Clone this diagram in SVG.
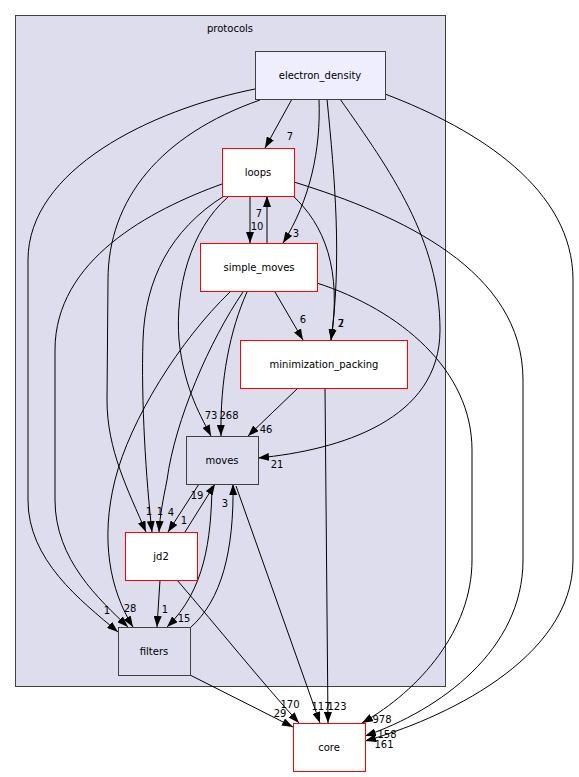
<svg xmlns="http://www.w3.org/2000/svg" width="579" height="777" viewBox="0 0 579 777">
<defs>
<marker id="ah" viewBox="0 0 11 8" refX="11" refY="4" markerWidth="11" markerHeight="8" markerUnits="userSpaceOnUse" orient="auto">
<path d="M0,0 L11,4 L0,8 z" fill="#000"/>
</marker>
<style>
text{font-family:"DejaVu Sans","Liberation Sans",sans-serif;font-size:10px;fill:#000}
.n text{text-anchor:middle}
.red{fill:#fff;stroke:#ff0000;stroke-width:1}
.grey{fill:#ddddee;stroke:#404040;stroke-width:1}
.top{fill:#eeeeff;stroke:#404040;stroke-width:1}
#edges path{fill:none;stroke:#000;stroke-width:1;marker-end:url(#ah)}
#edges text{text-anchor:middle}
</style>
</defs>
<rect width="579" height="777" fill="#fff"/>
<g id="cluster_protocols">
<rect x="15.5" y="15.5" width="430" height="671" fill="#ddddee" stroke="#404040"/>
<text x="230" y="32" text-anchor="middle">protocols</text>
</g>
<g id="edges">
<path d="M292,99 L265,148"/><text x="290" y="140">7</text>
<path d="M319,99 C321,150 310,200 283,243"/><text x="296" y="237">3</text>
<path d="M327,99 C335,180 342,260 331,340"/>
<path d="M292,195 C325,225 342,270 331,340"/><text x="341" y="327">7</text><text x="341" y="327">2</text>
<path d="M340,99 C390,170 440,240 440,330 C440,420 340,450 258,458"/><text x="277" y="468">21</text>
<path d="M385,94 C480,130 573,190 573,280 L573,560 C573,660 440,720 365,741"/><text x="384" y="748">161</text>
<path d="M294,182 C400,215 523,270 523,380 L523,560 C523,650 440,710 365,736"/><text x="387" y="738">158</text>
<path d="M317,283 C400,310 472,370 472,450 L472,560 C472,630 420,690 362,723"/><text x="382" y="723">978</text>
<path d="M260,100 C160,135 108,200 108,280 L107,400 C107,450 128,490 146,532"/><text x="149" y="515">1</text>
<path d="M255,89 C150,110 28,170 28,260 L28,500 C28,560 80,600 118,632"/><text x="107" y="614">1</text>
<path d="M250,196 L250,243"/><text x="257" y="230">10</text>
<path d="M267,243 L267,196"/><text x="259" y="217">7</text>
<path d="M228,197 C190,230 175,290 179,340 C184,390 203,420 211,436"/><text x="211" y="419">73</text>
<path d="M247,292 C230,330 220,380 221,436"/><text x="229" y="419">268</text>
<path d="M224,196 C170,230 145,280 143,340 C141,400 146,480 152,532"/><text x="160" y="515">1</text>
<path d="M222,184 C150,210 55,260 55,350 L55,500 C55,560 100,600 128,627"/><text x="130" y="612">28</text>
<path d="M243,292 C210,340 175,420 167,480 C163,500 160,515 159,532"/><text x="171" y="516">4</text>
<path d="M230,292 C180,340 130,420 115,480 C100,540 110,590 133,627"/>
<path d="M275,292 L303,340"/><text x="303" y="323">6</text>
<path d="M298,388 L248,436"/><text x="266" y="433">46</text>
<path d="M325,388 L328,723"/><text x="337" y="710">123</text>
<path d="M199,484 L168,532"/><text x="184" y="524">1</text>
<path d="M185,532 L215,484"/><text x="197" y="499">19</text>
<path d="M212,486 C211,540 205,590 167,627"/><text x="184" y="622">15</text>
<path d="M190,628 C222,600 234,550 233,484"/><text x="225" y="507">3</text>
<path d="M236,486 L320,723"/><text x="321" y="710">117</text>
<path d="M160,580 L157,627"/><text x="165" y="613">1</text>
<path d="M177,580 C220,630 260,680 299,723"/><text x="290" y="708">170</text>
<path d="M190,675 L293,727"/><text x="280" y="717">29</text>
</g>
<g id="node_electron_density" class="n">
<rect class="top" x="255.5" y="51.5" width="130" height="48"/>
<text x="320" y="79">electron_density</text>
</g>
<g id="node_loops" class="n">
<rect class="red" x="222.5" y="148.5" width="72" height="48"/>
<text x="258" y="176">loops</text>
</g>
<g id="node_simple_moves" class="n">
<rect class="red" x="200.5" y="243.5" width="117" height="48"/>
<text x="259" y="271">simple_moves</text>
</g>
<g id="node_minimization_packing" class="n">
<rect class="red" x="240.5" y="340.5" width="167" height="48"/>
<text x="324" y="368">minimization_packing</text>
</g>
<g id="node_moves" class="n">
<rect class="grey" x="186.5" y="436.5" width="72" height="48"/>
<text x="222" y="464">moves</text>
</g>
<g id="node_jd2" class="n">
<rect class="red" x="125.5" y="532.5" width="72" height="48"/>
<text x="161" y="560">jd2</text>
</g>
<g id="node_filters" class="n">
<rect class="grey" x="118.5" y="627.5" width="72" height="48"/>
<text x="154" y="655">filters</text>
</g>
<g id="node_core" class="n">
<rect class="red" x="293.5" y="723.5" width="72" height="48"/>
<text x="329" y="751">core</text>
</g>
</svg>
